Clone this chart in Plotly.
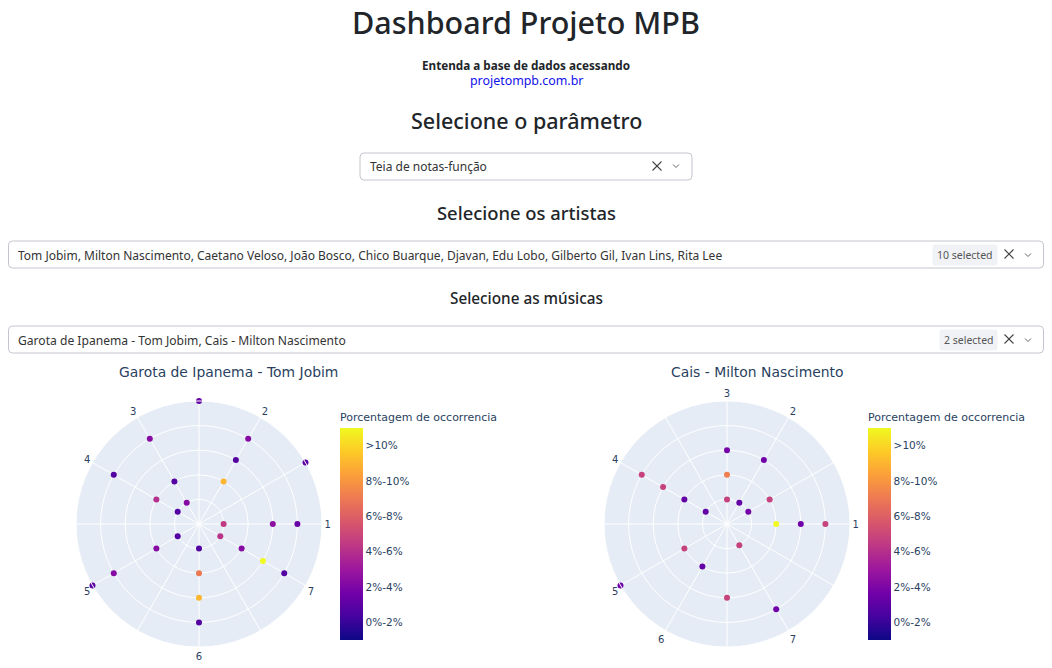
import plotly.graph_objects as go

# grau da escala -> angulo (1 semitom = 30 graus)
graus = ["1", "2", "3", "4", "5", "6", "7"]
escala_maior = [0, 60, 120, 150, 210, 270, 330]
escala_menor = [0, 60, 90, 150, 210, 240, 300]
angulos = list(range(0, 360, 30))

# Garota de Ipanema - Tom Jobim
garota_theta = [90, 120, 60, 60, 30, 150, 120, 60, 150, 120, 150, 0, 0, 0,
                210, 330, 210, 270, 330, 330, 210, 270, 330, 210, 270, 270]
garota_r = [5, 4, 4, 3, 5, 4, 2, 2, 2, 1, 1, 1, 3, 4,
            1, 1, 2, 1, 2, 3, 4, 2, 4, 5, 3, 4]
garota_pct = [2.2, 3.3, 3.3, 1.8, 2.0, 1.8, 1.8, 10.0, 5.0, 3.3, 1.8, 5.5, 3.5, 2.3,
              1.8, 5.2, 3.3, 1.8, 3.3, 12.5, 3.3, 8.0, 1.8, 2.0, 10.0, 1.8]

# Cais - Milton Nascimento
cais_theta = [90, 60, 90, 150, 150, 150, 90, 60, 30, 150, 30, 0, 0, 0,
              210, 300, 240, 210, 270, 300]
cais_r = [3, 3, 2, 4, 3, 2, 1, 1, 2, 1, 1, 2, 3, 4,
          2, 1, 2, 5, 3, 4]
cais_pct = [2.8, 2.6, 8.2, 5.8, 5.8, 2.2, 5.8, 2.2, 5.8, 2.2, 2.8, 12.5, 2.6, 5.8,
            5.8, 5.8, 2.2, 2.6, 5.8, 2.6]

faixas_val = [1, 3, 5, 7, 9, 11]
faixas_txt = ["0%-2%", "2%-4%", "4%-6%", "6%-8%", "8%-10%", ">10%"]

artistas = ["Tom Jobim", "Milton Nascimento", "Caetano Veloso", "João Bosco", "Chico Buarque",
            "Djavan", "Edu Lobo", "Gilberto Gil", "Ivan Lins", "Rita Lee"]
musicas = ["Garota de Ipanema - Tom Jobim", "Cais - Milton Nascimento"]

# a pagina tem 8px de margem no body, entao tudo e deslocado
M = 8
W, H = 1052 - M, 668 - M
FONTE_PAG = "Noto Sans"
FONTE_GRAF = "DejaVu Sans"


def px(x):
    return (x - M) / W


def py(y):
    return 1 - (y - M) / H


def caixa(x0, y0, x1, y1, r=4, borda="#c3c6ce", fundo="white"):
    p = (f"M {px(x0 + r)},{py(y0)} L {px(x1 - r)},{py(y0)} Q {px(x1)},{py(y0)} {px(x1)},{py(y0 + r)} "
         f"L {px(x1)},{py(y1 - r)} Q {px(x1)},{py(y1)} {px(x1 - r)},{py(y1)} "
         f"L {px(x0 + r)},{py(y1)} Q {px(x0)},{py(y1)} {px(x0)},{py(y1 - r)} "
         f"L {px(x0)},{py(y0 + r)} Q {px(x0)},{py(y0)} {px(x0 + r)},{py(y0)} Z")
    return dict(type="path", path=p, xref="paper", yref="paper",
                line=dict(color=borda, width=1), fillcolor=fundo, layer="below")


def texto(x, y, t, size, cor="#212529", anchor="center", weight="normal", fonte=FONTE_PAG):
    return dict(x=px(x), y=py(y), xref="paper", yref="paper", text=t, showarrow=False,
                xanchor=anchor, yanchor="middle",
                font=dict(family=fonte, size=size, color=cor, weight=weight))


def fechar(x, y, s=5):
    return [dict(type="line", xref="paper", yref="paper", x0=px(x - s), y0=py(y - s),
                 x1=px(x + s), y1=py(y + s), line=dict(color="#444", width=1.1)),
            dict(type="line", xref="paper", yref="paper", x0=px(x - s), y0=py(y + s),
                 x1=px(x + s), y1=py(y - s), line=dict(color="#444", width=1.1))]


def seta(x, y):
    p = f"M {px(x - 3)},{py(y - 1.5)} L {px(x)},{py(y + 1.5)} L {px(x + 3)},{py(y - 1.5)}"
    return dict(type="path", path=p, xref="paper", yref="paper", line=dict(color="#666", width=1))


def barra_cor(x):
    return dict(title=dict(text="Porcentagem de occorrencia", side="top",
                           font=dict(family=FONTE_GRAF, size=11, color="#2a3f5f")),
                tickvals=faixas_val, ticktext=faixas_txt,
                tickfont=dict(family=FONTE_GRAF, size=10.5, color="#2a3f5f"),
                x=px(x), xanchor="left", xpad=0, thickness=23,
                lenmode="pixels", len=230, y=py(640), yanchor="bottom", ypad=0,
                outlinewidth=0)


fig = go.Figure()

fig.add_trace(go.Scatterpolar(
    r=garota_r, theta=garota_theta, mode="markers", subplot="polar",
    marker=dict(size=6, color=garota_pct, colorscale="Plasma", cmin=0, cmax=12,
                colorbar=barra_cor(340)),
    showlegend=False))

fig.add_trace(go.Scatterpolar(
    r=cais_r, theta=cais_theta, mode="markers", subplot="polar2",
    marker=dict(size=6, color=cais_pct, colorscale="Plasma", cmin=0, cmax=12,
                colorbar=barra_cor(868)),
    showlegend=False))


def eixo_polar(cx, escala):
    rotulos = [graus[escala.index(a)] if a in escala else "" for a in angulos]
    return dict(
        domain=dict(x=[px(cx - 123), px(cx + 123)], y=[py(524 + 123), py(524 - 123)]),
        bgcolor="#e5ecf6",
        radialaxis=dict(range=[0, 5], dtick=1, showticklabels=False, ticks="",
                        gridcolor="white", linecolor="white", showline=False),
        angularaxis=dict(tickmode="array", tickvals=angulos, ticktext=rotulos,
                         direction="counterclockwise", rotation=0, ticks="",
                         gridcolor="white", linecolor="white",
                         tickfont=dict(family=FONTE_GRAF, size=10, color="#2a3f5f")),
    )


shapes = [caixa(360, 153, 692, 180)]
shapes += fechar(657, 166, 4.5) + [seta(676, 166)]
shapes.append(caixa(8.5, 241, 1043.5, 268))
shapes.append(caixa(933, 245, 997, 265, r=2, borda="#f0f2f6", fundo="#f0f2f6"))
shapes += fechar(1009, 254, 4.5) + [seta(1028, 255)]
shapes.append(caixa(8.5, 326, 1043.5, 353))
shapes.append(caixa(940, 330, 997, 350, r=2, borda="#f0f2f6", fundo="#f0f2f6"))
shapes += fechar(1009, 339, 4.5) + [seta(1028, 340)]

annotations = [
    texto(526, 22, "Dashboard Projeto MPB", 30.5, weight=500),
    texto(526, 65, "Entenda a base de dados acessando", 11.7, weight="bold"),
    texto(526, 80, "projetompb.com.br", 12.4, cor="#1010e8"),
    texto(526, 121, "Selecione o parâmetro", 21.5, weight=500),
    texto(368, 166, "Teia de notas-função", 12, cor="#333", anchor="left"),
    texto(526, 212, "Selecione os artistas", 18.4, weight=500),
    texto(16, 255, ", ".join(artistas), 12, cor="#333", anchor="left"),
    texto(965, 255, f"{len(artistas)} selected", 10.5, cor="#555"),
    texto(526, 298, "Selecione as músicas", 15.3, weight=500),
    texto(16, 340, ", ".join(musicas), 12.1, cor="#333", anchor="left"),
    texto(968.5, 340, f"{len(musicas)} selected", 10.5, cor="#555"),
    texto(228, 372, musicas[0], 13.9, cor="#2a3f5f", fonte=FONTE_GRAF),
    texto(757, 372, musicas[1], 13.9, cor="#2a3f5f", fonte=FONTE_GRAF),
]

fig.update_layout(
    width=W, height=H, margin=dict(l=0, r=0, t=0, b=0),
    paper_bgcolor="white", template="plotly",
    polar=eixo_polar(199, escala_maior),
    polar2=eixo_polar(727, escala_menor),
    shapes=shapes, annotations=annotations,
)

fig.write_html("out.html")
